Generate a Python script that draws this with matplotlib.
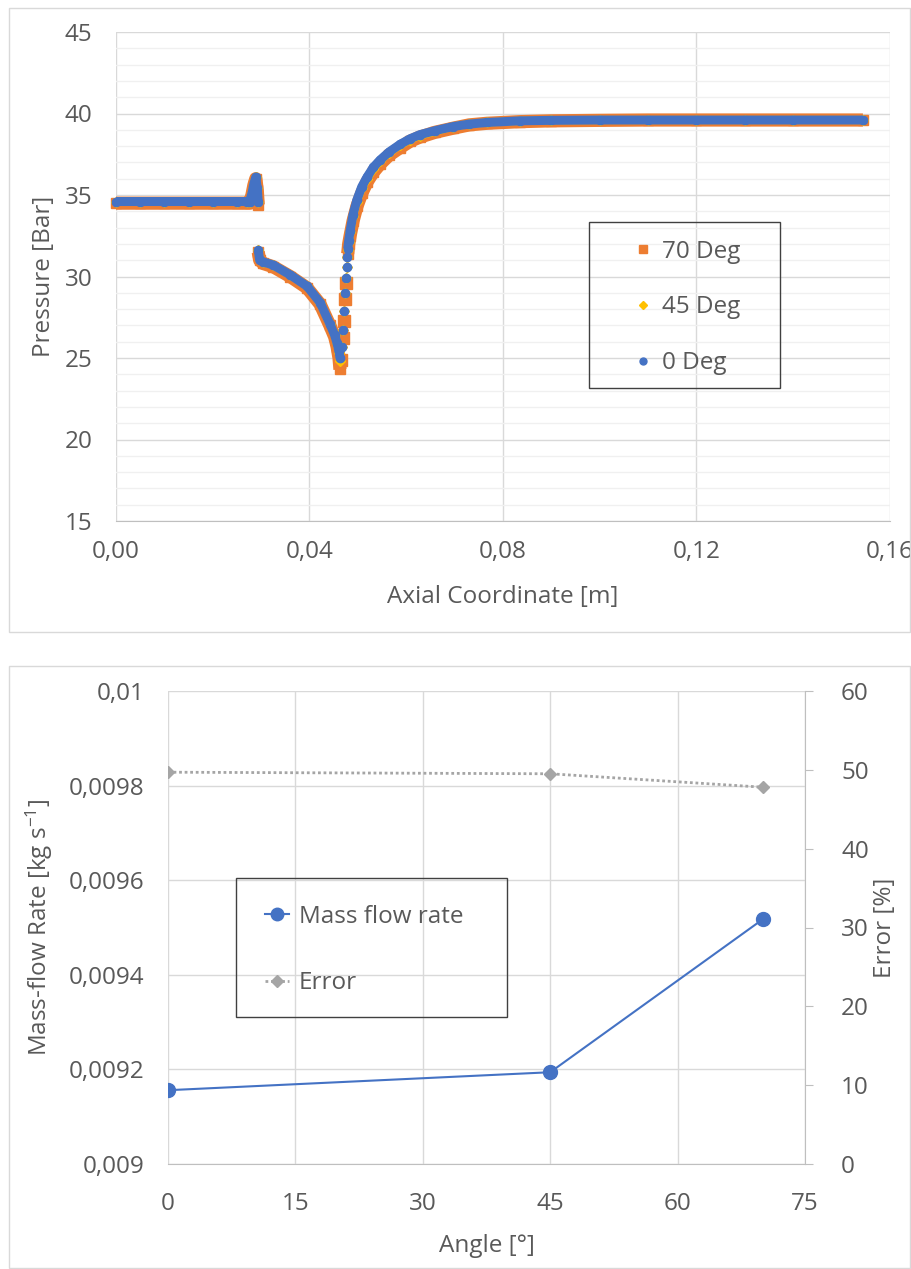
import numpy as np
import matplotlib
matplotlib.use("Agg")
import matplotlib.pyplot as plt
from matplotlib.lines import Line2D
from matplotlib.patches import Rectangle
from matplotlib.ticker import FuncFormatter, MultipleLocator

plt.rcParams["font.family"] = ["Open Sans", "DejaVu Sans"]
plt.rcParams["mathtext.fontset"] = "custom"
plt.rcParams["mathtext.rm"] = "Open Sans"
plt.rcParams["mathtext.it"] = "Open Sans"

nan = np.nan

# pressure along the axis, nan marks a gap between segments
x_axial = [0.000, 0.005, 0.010, 0.015, 0.020, 0.025, 0.0270, 0.0276, 0.0281, 0.0285, 0.0289, 0.0292, 0.0294, nan,
           0.0294, 0.0297, 0.0304, 0.0325, 0.036, 0.0395, 0.0422, 0.0442, 0.0452, 0.0457, 0.0461, 0.0463, nan,
           0.0479, 0.0481, 0.0484, 0.0490, 0.0498, 0.0508, 0.0519, 0.0532, 0.0546, 0.0565, 0.0587, 0.0608,
           0.0628, 0.066, 0.0697, 0.073, 0.0767, 0.0835, 0.090, 0.100, 0.110, 0.120, 0.130, 0.140, 0.1544]
p_0deg = [34.6, 34.6, 34.6, 34.6, 34.6, 34.6, 34.6, 34.6, 35.1, 35.7, 36.1, 35.4, 34.6, nan,
          31.6, 31.0, 30.9, 30.7, 30.1, 29.4, 28.4, 27.1, 26.4, 25.9, 25.4, 25.0, nan,
          31.7, 32.2, 32.8, 33.8, 34.7, 35.5, 36.1, 36.7, 37.15, 37.65, 38.1, 38.45,
          38.7, 38.95, 39.2, 39.35, 39.45, 39.55, 39.58, 39.6, 39.6, 39.6, 39.6, 39.6, 39.6]
p_45deg = [34.6, 34.6, 34.6, 34.6, 34.6, 34.6, 34.6, 34.6, 35.1, 35.7, 36.1, 35.4, 34.6, nan,
           31.6, 31.0, 30.9, 30.7, 30.1, 29.4, 28.4, 27.1, 26.4, 25.9, 25.3, 24.8, nan,
           31.6, 32.1, 32.7, 33.7, 34.6, 35.4, 36.0, 36.6, 37.1, 37.6, 38.05, 38.4,
           38.65, 38.9, 39.2, 39.35, 39.45, 39.55, 39.58, 39.6, 39.6, 39.6, 39.6, 39.6, 39.6]
p_70deg = [34.5, 34.5, 34.5, 34.5, 34.5, 34.5, 34.5, 34.5, 35.0, 35.6, 36.0, 35.3, 34.4, nan,
           31.5, 31.0, 30.8, 30.6, 30.0, 29.3, 28.3, 27.0, 26.3, 25.7, 25.0, 24.3, nan,
           31.4, 32.0, 32.5, 33.4, 34.3, 35.1, 35.8, 36.4, 36.9, 37.45, 37.9, 38.3,
           38.55, 38.85, 39.1, 39.3, 39.4, 39.5, 39.55, 39.58, 39.6, 39.6, 39.6, 39.6, 39.6]

# separate points on the steep rise after the minimum
x_rise_0 = [0.0467, 0.0469, 0.0471, 0.0473, 0.0475, 0.0477, 0.0478]
p_rise_0 = [25.7, 26.7, 27.9, 29.0, 29.9, 30.6, 31.2]
x_rise_70 = [0.0466, 0.0470, 0.0472, 0.0474, 0.0476]
p_rise_70 = [24.9, 26.2, 27.3, 28.6, 29.6]

x_ticks_top = [0.00, 0.04, 0.08, 0.12, 0.16]
y_ticks_top = [15, 20, 25, 30, 35, 40, 45]

# mass flow vs angle
angle = [0, 45, 70]
mass_flow = [0.009156, 0.009194, 0.009517]
error_pct = [49.7, 49.5, 47.8]

orange = "#ed7d31"
yellow = "#ffc000"
blue = "#4472c4"
grey = "#a5a5a5"
txt = "#595959"
grid_c = "#d9d9d9"
fs = 17.5

W, H = 912, 1269
fig = plt.figure(figsize=(W / 100, H / 100), dpi=100)

# panel frames
fig.add_artist(Rectangle((9 / W, 1 - 632 / H), 901 / W, 624 / H, transform=fig.transFigure,
                         fill=False, ec=grid_c, lw=1))
fig.add_artist(Rectangle((9 / W, 1 - 1268 / H), 901 / W, 602 / H, transform=fig.transFigure,
                         fill=False, ec=grid_c, lw=1))

comma = lambda fmt: FuncFormatter(lambda v, p: (fmt % v).replace(".", ","))

# ---- top: pressure ----
ax = fig.add_axes([116 / W, 1 - 521 / H, 774 / W, 489 / H])
ax.plot(x_axial, p_70deg, color=orange, lw=9.5, marker="s", ms=7.5, solid_capstyle="butt", zorder=3, clip_on=False)
ax.plot(x_rise_70, p_rise_70, ls="none", color=orange, marker="s", ms=8, zorder=3)
ax.plot(x_axial, p_45deg, color=yellow, lw=6, marker="D", ms=5, solid_capstyle="butt", zorder=4, clip_on=False)
ax.plot(x_rise_0, p_rise_0, ls="none", color=yellow, marker="D", ms=5, zorder=4)
ax.plot(x_axial, p_0deg, color=blue, lw=6.5, marker="o", ms=6, solid_capstyle="butt", zorder=5, clip_on=False)
ax.plot(x_rise_0, p_rise_0, ls="none", color=blue, marker="o", ms=6, zorder=5)

ax.set_xlim(0, 0.16)
ax.set_ylim(15, 45)
ax.set_xticks(x_ticks_top)
ax.set_yticks(y_ticks_top)
ax.xaxis.set_major_formatter(comma("%.2f"))
ax.yaxis.set_minor_locator(MultipleLocator(1))
ax.grid(True, which="major", color=grid_c, lw=1)
ax.grid(True, which="minor", axis="y", color="#f0f0f0", lw=1)
ax.set_axisbelow(True)
for s in ["top", "right", "left"]:
    ax.spines[s].set_visible(False)
ax.spines["bottom"].set_color("#bfbfbf")
ax.tick_params(which="both", length=0, labelsize=fs, labelcolor=txt)
ax.tick_params(axis="y", pad=17)
ax.tick_params(axis="x", pad=14)
ax.set_xlabel("Axial Coordinate [m]", fontsize=fs, color=txt)
ax.set_ylabel("Pressure [Bar]", fontsize=fs, color=txt)
ax.xaxis.set_label_coords(0.5, -0.13)
ax.yaxis.set_label_coords(-0.077, 0.5)

ax.add_patch(Rectangle((0.611, 0.272), 0.247, 0.339, transform=ax.transAxes,
                       fill=False, ec="#404040", lw=1, zorder=6))
handles = [Line2D([], [], ls="none", marker="s", color=orange, ms=6),
           Line2D([], [], ls="none", marker="D", color=yellow, ms=4),
           Line2D([], [], ls="none", marker="o", color=blue, ms=5)]
leg = ax.legend(handles, ["70 Deg", "45 Deg", "0 Deg"], loc="upper left",
                bbox_to_anchor=(0.665, 0.575), frameon=False, fontsize=fs,
                handlelength=1.0, handletextpad=0.3, labelspacing=1.3, borderpad=0, borderaxespad=0)
for t in leg.get_texts():
    t.set_color(txt)

# ---- bottom: mass flow rate and error ----
ax2 = fig.add_axes([168 / W, 1 - 1164 / H, 637 / W, 473 / H])
ax2.plot(angle, mass_flow, color=blue, lw=1.5, marker="o", ms=10, zorder=4)
ax2.set_xlim(0, 75)
ax2.set_ylim(0.009, 0.01)
ax2.set_xticks([0, 15, 30, 45, 60, 75])
ax2.set_yticks([0.009, 0.0092, 0.0094, 0.0096, 0.0098, 0.01])
ax2.yaxis.set_major_formatter(FuncFormatter(lambda v, p: ("%g" % round(v, 5)).replace(".", ",")))
ax2.grid(True, color=grid_c, lw=1)
ax2.set_axisbelow(True)
for s in ["top", "right", "left"]:
    ax2.spines[s].set_visible(False)
ax2.spines["bottom"].set_color("#bfbfbf")
ax2.tick_params(length=0, labelsize=fs, labelcolor=txt)
ax2.tick_params(axis="y", pad=17)
ax2.tick_params(axis="x", pad=20)
ax2.set_xlabel("Angle [°]", fontsize=fs, color=txt)
ax2.set_ylabel("Mass-flow Rate [kg s$^{-1}$]", fontsize=fs, color=txt)
ax2.xaxis.set_label_coords(0.5, -0.148)
ax2.yaxis.set_label_coords(-0.177, 0.5)

ax3 = ax2.twinx()
ax3.plot(angle, error_pct, color=grey, lw=2, ls=(0, (1, 1)), marker="D", ms=6, zorder=3)
ax3.set_ylim(0, 60)
ax3.set_yticks([0, 10, 20, 30, 40, 50, 60])
for s in ["top", "left", "bottom"]:
    ax3.spines[s].set_visible(False)
ax3.spines["right"].set_color("#bfbfbf")
ax3.tick_params(axis="y", length=6, color="#bfbfbf", labelsize=fs, labelcolor=txt, pad=20)
ax3.set_ylabel("Error [%]", fontsize=fs, color=txt)
ax3.yaxis.set_label_coords(1.107, 0.5)

ax3.add_patch(Rectangle((0.107, 0.311), 0.425, 0.294, transform=ax3.transAxes,
                        fill=False, ec="#404040", lw=1, zorder=6))
h2 = [Line2D([], [], color=blue, lw=1.5, marker="o", ms=9),
      Line2D([], [], color=grey, lw=2, ls=(0, (1, 1)), marker="D", ms=6)]
leg2 = ax3.legend(h2, ["Mass flow rate", "Error"], loc="upper left",
                  bbox_to_anchor=(0.152, 0.548), frameon=False, fontsize=fs,
                  handlelength=1.0, handletextpad=0.4, labelspacing=1.75, borderpad=0, borderaxespad=0)
for t in leg2.get_texts():
    t.set_color(txt)

fig.savefig("out.png", dpi=100)
